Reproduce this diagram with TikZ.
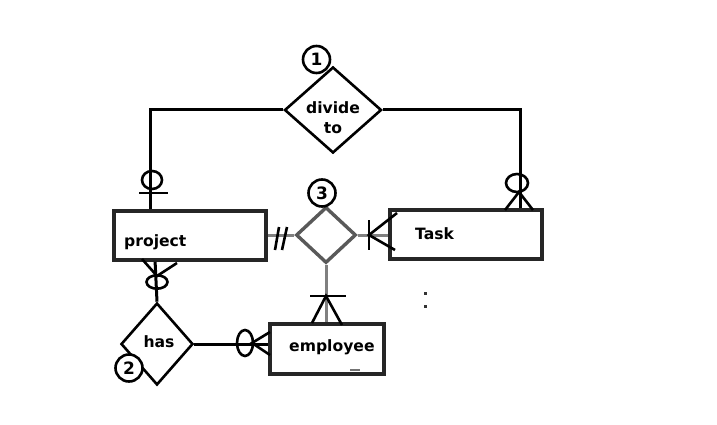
\documentclass[tikz,border=0pt]{standalone}
\usepackage{fontspec}
\setmainfont{DejaVu Sans}
\usetikzlibrary{shapes.geometric}
\begin{document}
\begin{tikzpicture}[x=1pt,y=-1pt,
  entity/.style={draw=black!85,line width=3.8pt,rectangle,inner sep=0pt},
  rel/.style={draw=black,line width=2.6pt,diamond,inner sep=0pt},
  relg/.style={draw=black!65,line width=3.4pt,diamond,inner sep=0pt},
  lbl/.style={font=\fontsize{15.6}{20}\selectfont\bfseries,inner sep=0pt},
  num/.style={circle,draw=black,line width=2.6pt,minimum size=27pt,inner sep=0pt,font=\fontsize{17}{17}\selectfont\bfseries},
  conn/.style={draw=black,line width=3pt},
  conng/.style={draw=black!50,line width=3pt},
  cmark/.style={draw=black,line width=2.6pt}
]
\useasboundingbox[fill=white] (0,0) rectangle (717,425);

% entities
\node[entity,minimum width=152pt,minimum height=49pt] (project) at (190,235.5) {};
\node[entity,minimum width=152pt,minimum height=49pt] (task) at (466,234.5) {};
\node[entity,minimum width=114pt,minimum height=50pt] (employee) at (327,349) {};
\node[lbl,anchor=west] (ptxt) at (124,242) {project};
\node[lbl,anchor=west] (ttxt) at (415,234) {Task};
\node[lbl,anchor=west] (etxt) at (289,347) {employee};

% relationships
\node[rel,minimum width=97pt,minimum height=86pt] (divide) at (333,110) {};
\node[lbl,align=center] (dtxt) at (333,118) {divide\\to};
\node[relg,minimum width=60pt,minimum height=56pt] (r3) at (326,235) {};
\node[rel,minimum width=72pt,minimum height=82pt] (has) at (157,344) {};
\node[lbl] (htxt) at (159,342) {has};

% numbers
\node[num,fill=white] (n1) at (316.5,59.5) {1};
\node[num,fill=white] (n3) at (322,193) {3};
\node[num,fill=white] (n2) at (129,368) {2};

% connectors
\draw[conn] (divide.west) -| ([xshift=38pt]project.north west);
\draw[conn] (divide.east) -| ([xshift=-23pt]task.north east);
\draw[conn] ([xshift=43pt]project.south west) -- (has.north);
\draw[conn] (has.east) -- (employee.west |- has.east);
\draw[conng] (project.east |- r3.west) -- (r3.west);
\draw[conng] (r3.east) -- (task.west |- r3.east);
\draw[conng] (r3.south) -- (employee.north -| r3.south);

% cardinality marks
\draw[cmark] (152,180) ellipse [x radius=10pt,y radius=9pt];
\draw[cmark] (139,193) -- (168,193);
\draw[cmark] (517,183) ellipse [x radius=11pt,y radius=9pt];
\draw[cmark] (505,210) -- (519,192) -- (533,210);
\draw[cmark] (157,282) ellipse [x radius=10.5pt,y radius=6.7pt];
\draw[cmark] (142,259) -- (157,276) -- (177,263);
\draw[cmark] (245,343) ellipse [x radius=8pt,y radius=13pt];
\draw[cmark] (270,332) -- (252,343) -- (270,355);
\draw[cmark] (275,250) -- (279,227);
\draw[cmark] (282,250) -- (287,227);
\draw[cmark] (369,220) -- (369,250);
\draw[cmark] (397,213) -- (369,235) -- (395,250);
\draw[cmark] (310,296) -- (346,296);
\draw[cmark] (312,323) -- (326,296) -- (342,325);

% stray dots
\fill[black!80] (423.5,291.5) rectangle (426.5,294.5);
\fill[black!80] (423.5,304.5) rectangle (426.5,307.5);
\draw[black!55,line width=1.5pt] (350,370) -- (360,370);
\end{tikzpicture}
\end{document}
